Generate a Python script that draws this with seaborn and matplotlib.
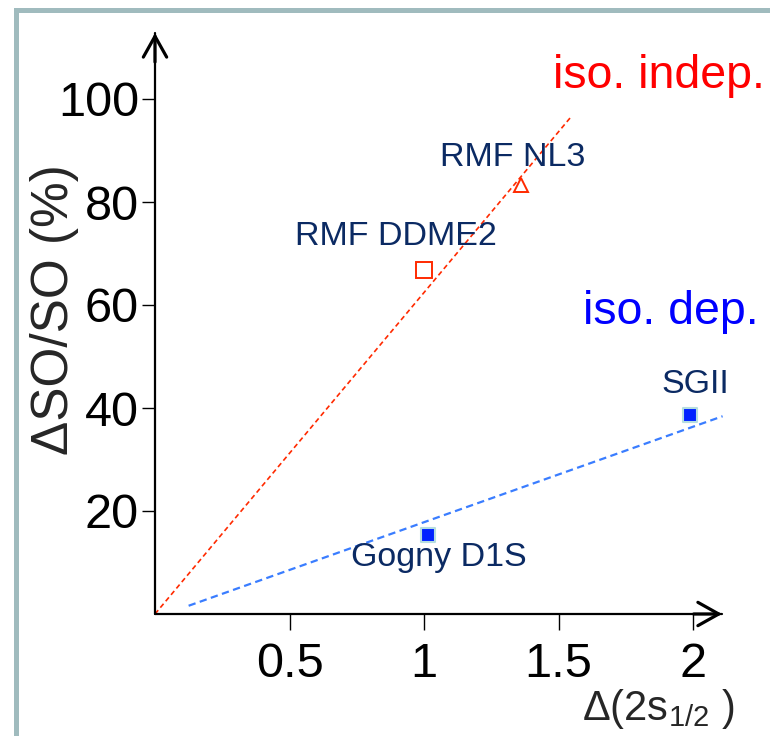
import matplotlib
matplotlib.use("Agg")
import matplotlib.pyplot as plt
import matplotlib.patches as mpatches
import pandas as pd
import seaborn as sns

# model predictions
models = ["RMF DDME2", "RMF NL3", "Gogny D1S", "SGII"]
delta_2s = [1.0, 1.36, 1.015, 1.99]
delta_so = [66.8, 83.3, 15.3, 38.6]

# guide lines
iso_indep_x = [0.0, 1.546]
iso_indep_y = [0.0, 96.5]
iso_dep_x = [0.125, 2.11]
iso_dep_y = [1.6, 38.4]

x_ticks = [0.5, 1, 1.5, 2]
x_tick_labels = ["0.5", "1", "1.5", "2"]
y_ticks = [20, 40, 60, 80, 100]
y_tick_labels = ["20", "40", "60", "80", "100"]

df = pd.DataFrame({"model": models, "d2s": delta_2s, "dso": delta_so})

sns.set_style("white")
plt.rcParams["font.family"] = ["Liberation Sans", "DejaVu Sans"]
plt.rcParams["mathtext.fontset"] = "custom"
plt.rcParams["mathtext.rm"] = "Liberation Sans"
plt.rcParams["mathtext.it"] = "Liberation Sans"

fig = plt.figure(figsize=(7.7, 7.36), dpi=100)
W, H = 770, 736
# axes spans origin -> arrow tips (pixel estimates)
ax = fig.add_axes([155 / W, (H - 614) / H, (722 - 155) / W, (614 - 33) / H])
ax.set_xlim(0, 567 / 269)
ax.set_ylim(0, 581 / 5.15)
for s in ax.spines.values():
    s.set_visible(False)
ax.patch.set_alpha(0)

# frame around the slide panel
frame = mpatches.Rectangle((15.5 / W, -0.1), 2, 1.1 - 10 / H, transform=fig.transFigure,
                           fill=False, edgecolor="#a0bbbe", lw=3.6, clip_on=False)
fig.add_artist(frame)

# axes with arrow heads
axis_line = dict(arrowstyle="-", lw=1.6, color="black", shrinkA=0, shrinkB=0)
head = dict(arrowstyle="->,head_length=0.75,head_width=0.42", lw=2.3, color="black",
            mutation_scale=20, shrinkA=0, shrinkB=0)
for tip in [(1, 0), (0, 1)]:
    ax.annotate("", xy=tip, xytext=(0, 0), xycoords="axes fraction", arrowprops=axis_line)
    back = (tip[0] * 0.95, tip[1] * 0.95)
    ax.annotate("", xy=tip, xytext=back, xycoords="axes fraction", arrowprops=head)

# guide lines
sns.lineplot(x=iso_indep_x, y=iso_indep_y, ax=ax, color="#ff2a00", lw=1.2,
             linestyle=(0, (3, 2)))
sns.lineplot(x=iso_dep_x, y=iso_dep_y, ax=ax, color="#3a7dff", lw=1.6,
             linestyle=(0, (3.3, 2)))
for line in ax.lines:
    line.set_clip_on(False)

# points
sub = df[df["model"] == "RMF DDME2"]
ax.plot(sub["d2s"], sub["dso"], marker="s", ms=11, mfc="none", mec="#ff2a00", mew=1.4,
        ls="none")
sub = df[df["model"] == "RMF NL3"]
ax.plot(sub["d2s"], sub["dso"], marker="^", ms=10, mfc="none", mec="#ff2a00", mew=1.4,
        ls="none")
sub = df[df["model"].isin(["Gogny D1S", "SGII"])]
sns.scatterplot(data=sub, x="d2s", y="dso", ax=ax, marker="s", s=100, color="#0022ff",
                edgecolor="#b5dde0", linewidth=1.5, zorder=5)

# point labels
offsets = {"RMF DDME2": (-20, 18), "RMF NL3": (-6, 14), "Gogny D1S": (8, -22), "SGII": (3.5, 16)}
for m, x, y in zip(models, delta_2s, delta_so):
    ax.annotate(m, (x, y), xytext=offsets[m], textcoords="offset points", ha="center",
                va="baseline", fontsize=24.5, color="#0b2a63")

ax.text(1.48, 102.1, "iso. indep.", color="#ff0000", fontsize=33.5, va="baseline", ha="left",
        clip_on=False)
ax.text(1.59, 56.3, "iso. dep.", color="#0000ff", fontsize=33.5, va="baseline", ha="left",
        clip_on=False)

ax.set_xticks(x_ticks)
ax.set_xticklabels(x_tick_labels)
ax.set_yticks(y_ticks)
ax.set_yticklabels(y_tick_labels)
ax.tick_params(axis="x", direction="out", length=11.5, width=1, labelsize=35, pad=9,
               bottom=True, colors="black")
ax.tick_params(axis="y", direction="out", length=9.5, width=1, labelsize=35, pad=2,
               left=True, colors="black")
ax.set_xlabel("")
ax.set_ylabel("")

fig.text(55 / W, 1 - 310 / H, "ΔSO/SO (%)", rotation=90, ha="center", va="center", fontsize=37)
fig.text(658 / W, 1 - 720 / H, r"Δ(2s$_{1/2}$ )", ha="center", va="baseline", fontsize=30)

fig.savefig("out.png", dpi=100, facecolor="white")
